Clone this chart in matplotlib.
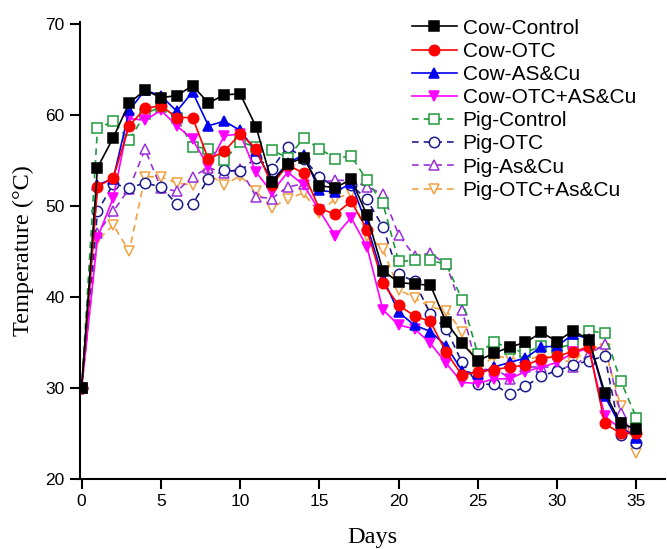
import matplotlib.pyplot as plt

days = list(range(0, 36))

cow_control = [30, 54.2, 57.5, 61.3, 62.7, 61.9, 62.1, 63.2, 61.3, 62.2, 62.3, 58.7, 52.6, 54.6, 55.3, 52.2,
               52.0, 52.9, 49.0, 42.9, 41.6, 41.4, 41.3, 37.2, 34.9, 33.0, 33.8, 34.5, 35.0, 36.1, 35.1, 36.3,
               35.3, 29.5, 26.1, 25.5]
cow_otc = [30, 52.1, 53.1, 58.8, 60.7, 61.0, 59.7, 59.7, 55.1, 56.0, 57.9, 56.3, 52.3, 54.5, 53.6, 49.7,
           49.1, 50.5, 47.4, 41.5, 39.1, 37.9, 37.3, 33.9, 31.4, 31.8, 32.0, 32.3, 32.5, 33.2, 33.5, 34.0,
           34.5, 26.1, 25.0, 25.0]
cow_ascu = [30, 52.3, 53.0, 60.5, 62.7, 62.1, 60.4, 62.5, 58.8, 59.3, 58.3, 56.0, 52.7, 54.7, 55.6, 51.7,
            51.5, 52.5, 47.9, 42.1, 38.3, 36.9, 36.2, 34.6, 31.9, 31.5, 32.3, 32.8, 33.3, 34.5, 34.6, 35.9,
            35.4, 29.1, 25.8, 24.5]
cow_otc_ascu = [30, 46.5, 50.9, 59.6, 59.4, 60.5, 58.8, 57.3, 54.3, 57.7, 57.9, 53.7, 51.5, 53.7, 52.3, 49.5,
                46.7, 48.7, 45.5, 38.6, 36.9, 36.5, 34.9, 32.7, 30.6, 30.5, 31.0, 31.0, 31.8, 32.3, 32.8, 33.9,
                34.3, 26.9, 25.5, 24.8]
pig_control = [30, 58.5, 59.3, 57.2, 60.1, 60.9, 59.7, 56.5, 56.3, 55.0, 57.0, 56.5, 56.1, 55.3, 57.4, 56.3,
               55.2, 55.5, 52.8, 50.3, 43.9, 44.0, 44.0, 43.6, 39.7, 33.7, 35.1, 34.3, 33.9, 34.6, 34.4, 34.8,
               36.3, 36.0, 30.8, 26.7]
pig_otc = [30, 49.4, 52.4, 52.0, 52.5, 52.1, 50.2, 50.2, 53.0, 53.9, 53.8, 55.3, 54.1, 56.5, 55.2, 53.2,
           52.0, 52.3, 50.7, 47.7, 42.5, 41.7, 38.1, 36.5, 32.8, 30.4, 30.4, 29.3, 30.2, 31.3, 31.9, 32.5,
           33.0, 33.5, 24.8, 24.0]
pig_ascu = [30, 47.0, 49.4, 51.9, 56.2, 52.0, 51.6, 53.2, 54.2, 53.6, 54.1, 51.0, 50.8, 52.1, 52.4, 52.6,
            52.8, 52.8, 52.1, 51.3, 46.8, 44.5, 44.8, 43.6, 38.6, 31.8, 32.3, 31.0, 32.3, 32.3, 32.3, 32.3,
            33.7, 34.8, 27.2, 24.2]
pig_otc_ascu = [30, 46.2, 47.9, 45.0, 53.2, 53.2, 52.5, 52.3, 53.5, 52.3, 53.3, 51.6, 49.8, 50.8, 51.4, 49.2,
                50.8, 51.4, 46.7, 45.3, 40.8, 39.9, 38.9, 38.5, 36.2, 32.0, 33.5, 33.3, 33.0, 33.6, 33.2, 32.8,
                34.6, 34.3, 28.0, 22.9]

labels = ['Cow-Control', 'Cow-OTC', 'Cow-AS&Cu', 'Cow-OTC+AS&Cu',
          'Pig-Control', 'Pig-OTC', 'Pig-As&Cu', 'Pig-OTC+As&Cu']
series = [cow_control, cow_otc, cow_ascu, cow_otc_ascu,
          pig_control, pig_otc, pig_ascu, pig_otc_ascu]

colors = ['black', 'red', '#0000ee', '#ff00ff', '#1f9a3c', '#1c1c8c', '#9b30d9', '#f0a040']
markers = ['s', 'o', '^', 'v', 's', 'o', '^', 'v']

fig = plt.figure(figsize=(6.67, 5.49), dpi=100)
ax = fig.add_axes([0.12, 0.1275, 0.877, 0.8325])

for i, (values, label) in enumerate(zip(series, labels)):
    pig = i >= 4
    ax.plot(
        days,
        values,
        linestyle=(0, (4, 3)) if pig else '-',
        color=colors[i],
        linewidth=1.2,
        marker=markers[i],
        markersize=7.5,
        markerfacecolor='white' if pig else colors[i],
        markeredgecolor=colors[i],
        markeredgewidth=1.1,
        label=label,
        zorder=10 - i
    )

ax.set_xlim(-0.1, 36.8)
ax.set_ylim(20, 70.2)
ax.set_xticks([0, 5, 10, 15, 20, 25, 30, 35])
ax.set_yticks([20, 30, 40, 50, 60, 70])

for side in ['top', 'right']:
    ax.spines[side].set_visible(False)
for side in ['left', 'bottom']:
    ax.spines[side].set_linewidth(1.5)

ax.tick_params(direction='out', length=7, width=1.5, labelsize=12.5, pad=4)
for tick in ax.get_xticklabels() + ax.get_yticklabels():
    tick.set_family('Liberation Sans')

ax.set_xlabel('Days', family='Liberation Serif', fontsize=17.5, labelpad=13)
ax.set_ylabel('Temperature (\u00b0C)', family='Liberation Serif', fontsize=17.5, labelpad=8)

fig.legend(loc='upper left', bbox_to_anchor=(0.617, 0.966), frameon=False,
           prop={'family': 'Liberation Sans', 'size': 15}, labelspacing=0.2,
           handlelength=2.2, handletextpad=0.25, borderpad=0, borderaxespad=0)

plt.savefig('out.png')
